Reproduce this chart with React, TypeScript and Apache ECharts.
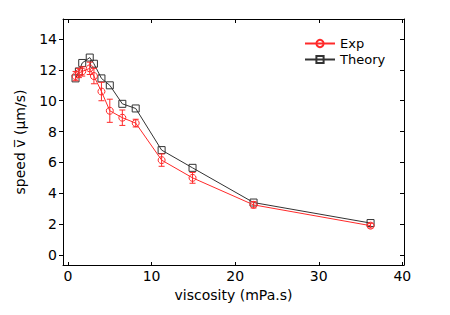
import React, { useEffect, useRef } from "react";
import * as echarts from "echarts";

const viscosity = [0.9, 1.3, 1.7, 2.6, 3.1, 4.0, 5.0, 6.5, 8.1, 11.2, 14.9, 22.2, 36.2];
const expSpeed = [11.6, 11.8, 11.9, 12.1, 11.6, 10.6, 9.35, 8.9, 8.55, 6.15, 5.0, 3.25, 1.9];
const expErr = [0.3, 0.3, 0.3, 0.4, 0.5, 0.6, 0.75, 0.5, 0.25, 0.4, 0.35, 0.2, 0.15];
const theorySpeed = [11.45, 11.9, 12.45, 12.8, 12.4, 11.45, 11.0, 9.8, 9.5, 6.8, 5.65, 3.4, 2.07];
const xTicks = [0, 10, 20, 30, 40];
const yTicks = [0, 2, 4, 6, 8, 10, 12, 14];

const RED = "#ff2a2a";
const BLACK = "#333333";
const FONT = "DejaVu Sans";

export default function App() {
  const ref = useRef<HTMLDivElement>(null);
  useEffect(() => {
    document.body.style.margin = "0";
    const chart = echarts.init(ref.current!, null, { renderer: "svg" });
    const axisLineStyle = { color: "#000", width: 1 };
    const option: any = {
      animation: false,
      backgroundColor: "#fff",
      grid: { left: 63, right: 46, top: 19, bottom: 50 },
      legend: {
        orient: "vertical",
        left: 304,
        top: 37,
        itemWidth: 30,
        itemHeight: 9,
        itemGap: 3,
        padding: 0,
        textStyle: { fontFamily: FONT, fontSize: 13, color: "#000", padding: [0, 0, 0, 0] },
        data: ["Exp", "Theory"],
      },
      xAxis: [
        {
          type: "value",
          min: -0.6,
          max: 40.2,
          position: "bottom",
          name: "viscosity (mPa.s)",
          nameLocation: "middle",
          nameGap: 23,
          nameTextStyle: { fontFamily: FONT, fontSize: 14, color: "#000" },
          axisLine: { show: true, onZero: false, lineStyle: axisLineStyle },
          axisTick: { show: true, inside: true, length: 3, customValues: xTicks, lineStyle: axisLineStyle },
          axisLabel: { customValues: xTicks, fontFamily: FONT, fontSize: 14, color: "#000", margin: 4 },
          splitLine: { show: false },
        },
        {
          type: "value",
          min: -0.6,
          max: 40.2,
          position: "top",
          axisLine: { show: true, onZero: false, lineStyle: axisLineStyle },
          axisTick: { show: true, inside: true, length: 4, customValues: xTicks, lineStyle: axisLineStyle },
          axisLabel: { show: false },
          splitLine: { show: false },
        },
      ],
      yAxis: [
        {
          type: "value",
          min: -0.65,
          max: 15.3,
          position: "left",
          name: "speed v\u0305 (\u00b5m/s)",
          nameLocation: "middle",
          nameGap: 36,
          nameTextStyle: { fontFamily: FONT, fontSize: 14, color: "#000" },
          axisLine: { show: true, onZero: false, lineStyle: axisLineStyle },
          axisTick: { show: true, inside: false, length: 4, customValues: yTicks, lineStyle: axisLineStyle },
          axisLabel: { customValues: yTicks, fontFamily: FONT, fontSize: 14, color: "#000", margin: 6 },
          splitLine: { show: false },
        },
        {
          type: "value",
          min: -0.65,
          max: 15.3,
          position: "right",
          axisLine: { show: true, onZero: false, lineStyle: axisLineStyle },
          axisTick: { show: true, inside: true, length: 4, customValues: yTicks, lineStyle: axisLineStyle },
          axisLabel: { show: false },
          splitLine: { show: false },
        },
      ],
      series: [
        {
          name: "ExpErr",
          type: "custom",
          xAxisIndex: 0,
          yAxisIndex: 0,
          data: viscosity.map((v, i) => [v, expSpeed[i] - expErr[i], expSpeed[i] + expErr[i]]),
          renderItem: (params: any, api: any) => {
            const lo = api.coord([api.value(0), api.value(1)]);
            const hi = api.coord([api.value(0), api.value(2)]);
            const w = 3;
            const style = { stroke: RED, lineWidth: 1 };
            return {
              type: "group",
              children: [
                { type: "line", shape: { x1: lo[0], y1: lo[1], x2: hi[0], y2: hi[1] }, style },
                { type: "line", shape: { x1: lo[0] - w, y1: lo[1], x2: lo[0] + w, y2: lo[1] }, style },
                { type: "line", shape: { x1: hi[0] - w, y1: hi[1], x2: hi[0] + w, y2: hi[1] }, style },
              ],
            };
          },
          z: 3,
        },
        {
          name: "Theory",
          type: "line",
          xAxisIndex: 0,
          yAxisIndex: 0,
          data: viscosity.map((v, i) => [v, theorySpeed[i]]),
          symbol: "rect",
          symbolSize: 7,
          showAllSymbol: true,
          itemStyle: { color: "rgba(255,255,255,0)", borderColor: BLACK, borderWidth: 1 },
          lineStyle: { color: BLACK, width: 1 },
          z: 2,
        },
        {
          name: "Exp",
          type: "line",
          xAxisIndex: 0,
          yAxisIndex: 0,
          data: viscosity.map((v, i) => [v, expSpeed[i]]),
          symbol: "circle",
          symbolSize: 7,
          showAllSymbol: true,
          itemStyle: { color: "rgba(255,255,255,0)", borderColor: RED, borderWidth: 1 },
          lineStyle: { color: RED, width: 1 },
          z: 4,
        },
      ],
    };
    chart.setOption(option);
    return () => chart.dispose();
  }, []);
  return <div ref={ref} style={{ width: 450, height: 315 }} />;
}
